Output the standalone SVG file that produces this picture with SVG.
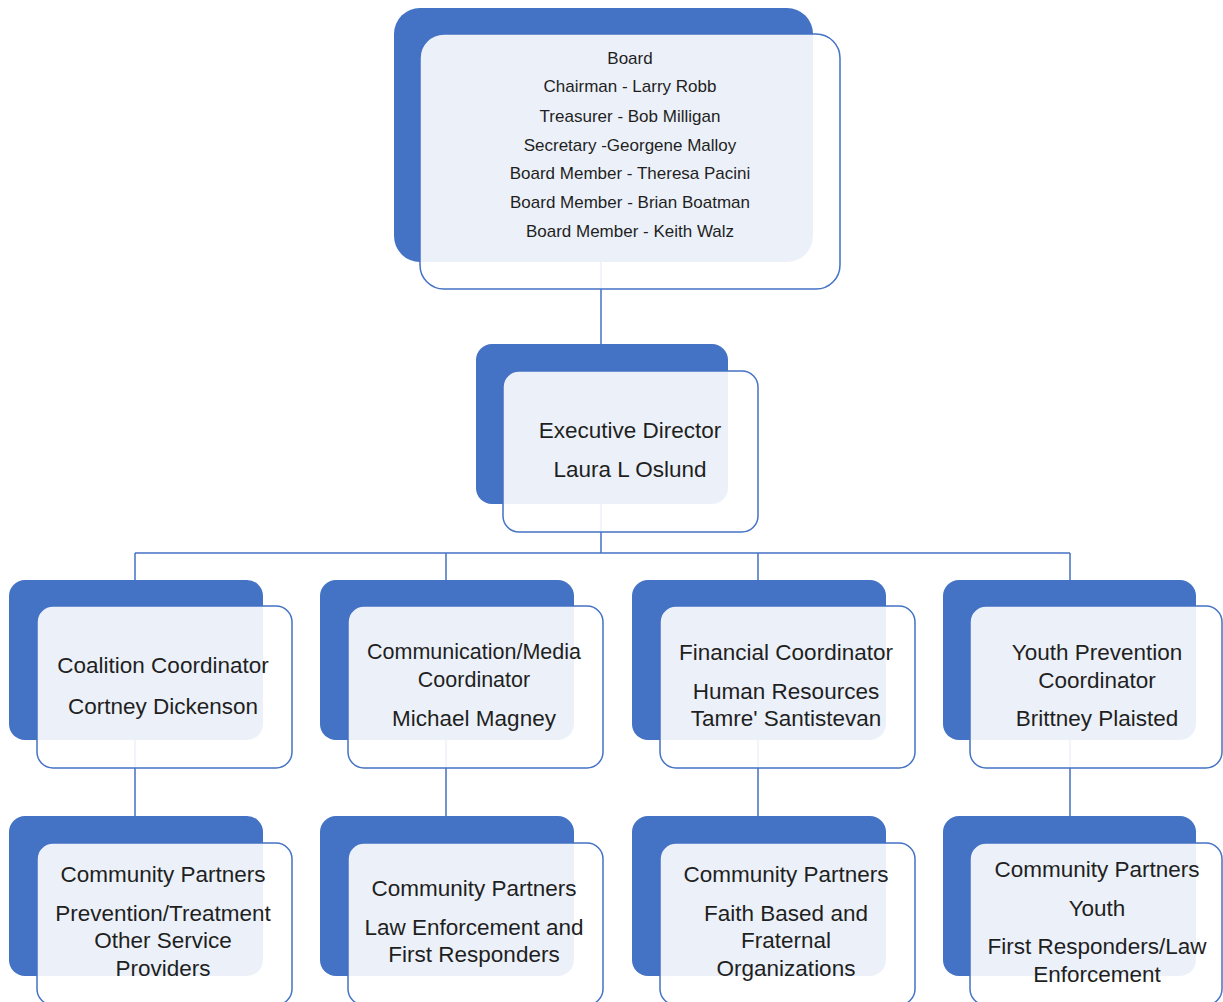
<svg xmlns="http://www.w3.org/2000/svg" width="1223" height="1002" viewBox="0 0 1223 1002">
<style>
.bg{fill:#4472C4}
.fg{fill:#ffffff;fill-opacity:0.9;stroke:#4472C4;stroke-width:1.5}
.ln{stroke:#4472C4;stroke-width:1.5;fill:none}
text{font-family:"Liberation Sans",Arial,sans-serif;fill:#1f1f1f;text-anchor:middle}
.s{font-size:17px}
.m{font-size:21.5px}
.l{font-size:22.5px}
</style>
<rect width="1223" height="1002" fill="#ffffff"/>
<g id="connectors">
<path class="ln" d="M601 262V344"/>
<path class="ln" d="M601 504V553M135 553H1070M135 553V580M446 553V580M758 553V580M1070 553V580"/>
<path class="ln" d="M135 740V816M446 740V816M758 740V816M1070 740V816"/>
</g>
<g id="board">
<rect class="bg" x="394" y="8" width="419" height="254" rx="26"/>
<rect class="fg" x="420" y="34" width="420" height="255" rx="24"/>
<text class="s" x="630" y="64">Board</text>
<text class="s" x="630" y="92">Chairman - Larry Robb</text>
<text class="s" x="630" y="122">Treasurer - Bob Milligan</text>
<text class="s" x="630" y="151">Secretary -Georgene Malloy</text>
<text class="s" x="630" y="179">Board Member - Theresa Pacini</text>
<text class="s" x="630" y="208">Board Member - Brian Boatman</text>
<text class="s" x="630" y="237">Board Member - Keith Walz</text>
</g>
<g id="exec">
<rect class="bg" x="476" y="344" width="252" height="160" rx="16"/>
<rect class="fg" x="503" y="371" width="255" height="161" rx="16"/>
<text class="l" x="630" y="438">Executive Director</text>
<text class="l" x="630" y="477">Laura L Oslund</text>
</g>
<g id="coalition">
<rect class="bg" x="9" y="580" width="254" height="160" rx="16"/>
<rect class="fg" x="37" y="606" width="255" height="162" rx="16"/>
<text class="l" x="163" y="673">Coalition Coordinator</text>
<text class="l" x="163" y="714">Cortney Dickenson</text>
</g>
<g id="communication">
<rect class="bg" x="320" y="580" width="254" height="160" rx="16"/>
<rect class="fg" x="348" y="606" width="255" height="162" rx="16"/>
<text class="m" x="474" y="659">Communication/Media</text>
<text class="m" x="474" y="687">Coordinator</text>
<text class="l" x="474" y="726">Michael Magney</text>
</g>
<g id="financial">
<rect class="bg" x="632" y="580" width="254" height="160" rx="16"/>
<rect class="fg" x="660" y="606" width="255" height="162" rx="16"/>
<text class="l" x="786" y="660">Financial Coordinator</text>
<text class="l" x="786" y="699">Human Resources</text>
<text class="l" x="786" y="726">Tamre' Santistevan</text>
</g>
<g id="youth">
<rect class="bg" x="943" y="580" width="253" height="160" rx="16"/>
<rect class="fg" x="970" y="606" width="252" height="162" rx="16"/>
<text class="l" x="1097" y="660">Youth Prevention</text>
<text class="l" x="1097" y="688">Coordinator</text>
<text class="l" x="1097" y="726">Brittney Plaisted</text>
</g>
<g id="partners1">
<rect class="bg" x="9" y="816" width="254" height="160" rx="16"/>
<rect class="fg" x="37" y="843" width="255" height="162" rx="16"/>
<text class="l" x="163" y="882">Community Partners</text>
<text class="l" x="163" y="921">Prevention/Treatment</text>
<text class="l" x="163" y="948">Other Service</text>
<text class="l" x="163" y="976">Providers</text>
</g>
<g id="partners2">
<rect class="bg" x="320" y="816" width="254" height="160" rx="16"/>
<rect class="fg" x="348" y="843" width="255" height="162" rx="16"/>
<text class="l" x="474" y="896">Community Partners</text>
<text class="l" x="474" y="935">Law Enforcement and</text>
<text class="l" x="474" y="962">First Responders</text>
</g>
<g id="partners3">
<rect class="bg" x="632" y="816" width="254" height="160" rx="16"/>
<rect class="fg" x="660" y="843" width="255" height="162" rx="16"/>
<text class="l" x="786" y="882">Community Partners</text>
<text class="l" x="786" y="921">Faith Based and</text>
<text class="l" x="786" y="948">Fraternal</text>
<text class="l" x="786" y="976">Organizations</text>
</g>
<g id="partners4">
<rect class="bg" x="943" y="816" width="253" height="160" rx="16"/>
<rect class="fg" x="970" y="843" width="252" height="162" rx="16"/>
<text class="l" x="1097" y="877">Community Partners</text>
<text class="l" x="1097" y="916">Youth</text>
<text class="l" x="1097" y="954">First Responders/Law</text>
<text class="l" x="1097" y="982">Enforcement</text>
</g>
</svg>
